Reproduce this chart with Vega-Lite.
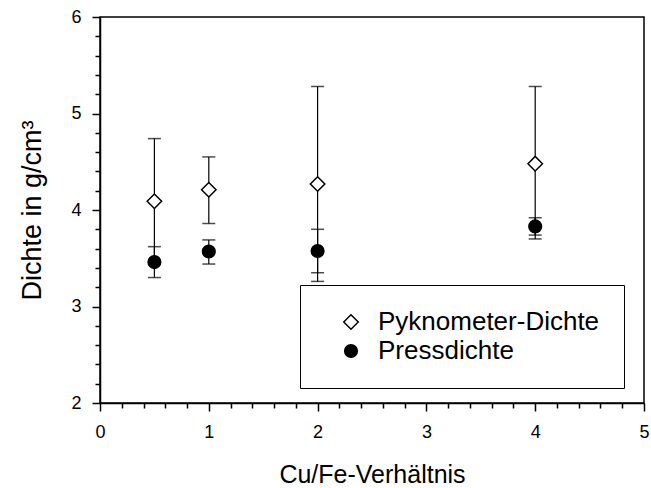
{
  "$schema": "https://vega.github.io/schema/vega-lite/v6.json",
  "width": 544,
  "height": 386,
  "autosize": "none",
  "padding": {"left": 100, "top": 17, "right": 7, "bottom": 85},
  "background": "white",
  "config": {
    "view": {"stroke": "black", "strokeWidth": 1.5},
    "font": "Liberation Sans",
    "axis": {
      "domainColor": "black",
      "domainWidth": 1.5,
      "tickColor": "black",
      "tickWidth": 1.5,
      "labelColor": "black",
      "titleColor": "black",
      "labelFont": "Liberation Sans",
      "titleFont": "Liberation Sans",
      "labelOverlap": false,
      "grid": false
    }
  },
  "data": {
    "values": [
      {"series": "Pyknometer-Dichte", "ratio": 0.5, "dichte": 4.09, "lo": 3.44, "hi": 4.74},
      {"series": "Pyknometer-Dichte", "ratio": 1, "dichte": 4.21, "lo": 3.86, "hi": 4.55},
      {"series": "Pyknometer-Dichte", "ratio": 2, "dichte": 4.27, "lo": 3.26, "hi": 5.28},
      {"series": "Pyknometer-Dichte", "ratio": 4, "dichte": 4.48, "lo": 3.7, "hi": 5.28},
      {"series": "Pressdichte", "ratio": 0.5, "dichte": 3.46, "lo": 3.3, "hi": 3.62},
      {"series": "Pressdichte", "ratio": 1, "dichte": 3.57, "lo": 3.44, "hi": 3.69},
      {"series": "Pressdichte", "ratio": 2, "dichte": 3.575, "lo": 3.35, "hi": 3.8},
      {"series": "Pressdichte", "ratio": 4, "dichte": 3.83, "lo": 3.74, "hi": 3.92}
    ]
  },
  "layer": [
    {
      "mark": {"type": "rule", "color": "black", "strokeWidth": 1.2},
      "encoding": {
        "x": {
          "field": "ratio", "type": "quantitative",
          "scale": {"domain": [0, 5], "nice": false, "zero": false},
          "axis": {
            "orient": "bottom", "tickCount": 200,
            "values": [0, 0.2, 0.4, 0.6, 0.8, 1, 1.2, 1.4, 1.6, 1.8, 2, 2.2, 2.4, 2.6, 2.8, 3, 3.2, 3.4, 3.6, 3.8, 4, 4.2, 4.4, 4.6, 4.8, 5],
            "tickSize": {"condition": {"test": "abs(datum.value - round(datum.value)) < 0.01", "value": 8}, "value": 5},
            "labelExpr": "abs(datum.value - round(datum.value)) < 0.01 ? format(datum.value, 'd') : ''",
            "labelFontSize": 18, "labelPadding": 12, "labelFlush": false, "labelOverlap": false, "labelBound": false,
            "title": "Cu/Fe-Verhältnis", "titleFontSize": 25, "titleFontWeight": "normal", "titlePadding": 21
          }
        },
        "y": {
          "field": "lo", "type": "quantitative",
          "scale": {"domain": [2, 6], "nice": false, "zero": false},
          "axis": {
            "orient": "left", "tickCount": 200,
            "values": [2, 2.2, 2.4, 2.6, 2.8, 3, 3.2, 3.4, 3.6, 3.8, 4, 4.2, 4.4, 4.6, 4.8, 5, 5.2, 5.4, 5.6, 5.8, 6],
            "tickSize": {"condition": {"test": "abs(datum.value - round(datum.value)) < 0.01", "value": 8}, "value": 5},
            "labelExpr": "abs(datum.value - round(datum.value)) < 0.01 ? format(datum.value, 'd') : ''",
            "labelFontSize": 18, "labelPadding": 11, "labelOverlap": false, "labelFlush": false, "labelBound": false,
            "title": "Dichte in g/cm³", "titleFontSize": 27, "titleFontWeight": "normal", "titlePadding": 24
          }
        },
        "y2": {"field": "hi"}
      }
    },
    {
      "mark": {"type": "tick", "orient": "horizontal", "size": 13, "thickness": 1.5, "color": "black"},
      "encoding": {
        "x": {"field": "ratio", "type": "quantitative"},
        "y": {"field": "hi", "type": "quantitative"}
      }
    },
    {
      "mark": {"type": "tick", "orient": "horizontal", "size": 13, "thickness": 1.5, "color": "black"},
      "encoding": {
        "x": {"field": "ratio", "type": "quantitative"},
        "y": {"field": "lo", "type": "quantitative"}
      }
    },
    {
      "mark": {"type": "point", "filled": false, "stroke": "black", "strokeWidth": 1.5, "opacity": 1},
      "encoding": {
        "x": {"field": "ratio", "type": "quantitative"},
        "y": {"field": "dichte", "type": "quantitative"},
        "shape": {
          "field": "series", "type": "nominal",
          "scale": {"domain": ["Pyknometer-Dichte", "Pressdichte"], "range": ["diamond", "circle"]},
          "legend": {"orient": "none", "legendX": 200, "legendY": 268, "title": null, "strokeColor": "black", "padding": 24, "labelFontSize": 26, "labelFont": "Liberation Sans", "labelColor": "black", "labelLimit": 400, "symbolOffset": 14, "labelOffset": 14, "rowPadding": 3, "symbolStrokeColor": "black", "symbolStrokeWidth": 1.5}
        },
        "fill": {
          "field": "series", "type": "nominal",
          "scale": {"domain": ["Pyknometer-Dichte", "Pressdichte"], "range": ["white", "black"]}
        },
        "size": {
          "field": "series", "type": "nominal",
          "scale": {"domain": ["Pyknometer-Dichte", "Pressdichte"], "range": [210, 160]}
        }
      }
    }
  ]
}
